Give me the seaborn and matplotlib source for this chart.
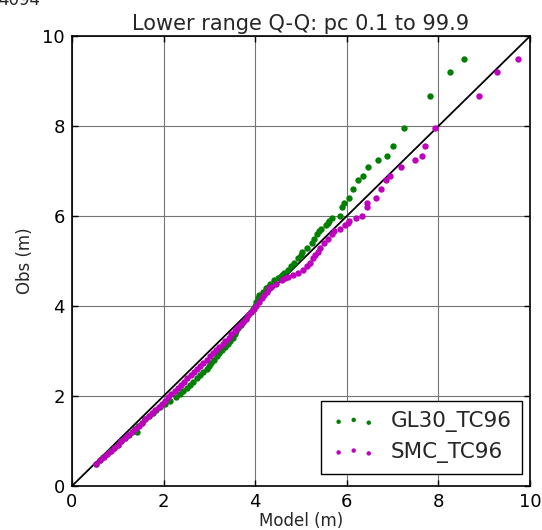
import matplotlib
matplotlib.use("Agg")
import matplotlib.pyplot as plt
import seaborn as sns
import pandas as pd

# Observed quantiles (m), shared by both models
obs_q = [0.50, 0.57, 0.64, 0.71, 0.78, 0.85, 0.92, 0.99, 1.06, 1.13,
         1.20, 1.27, 1.34, 1.41, 1.48, 1.55, 1.62, 1.69, 1.76, 1.83,
         1.90, 1.97, 2.04, 2.11, 2.18, 2.25, 2.32, 2.39, 2.46, 2.53,
         2.60, 2.67, 2.74, 2.81, 2.88, 2.95, 3.02, 3.09, 3.16, 3.23,
         3.30, 3.37, 3.44, 3.51, 3.58, 3.65, 3.72, 3.79, 3.86, 3.93,
         4.00, 4.08, 4.17, 4.25, 4.32, 4.39, 4.43, 4.50, 4.58, 4.62,
         4.65, 4.69, 4.73, 4.80, 4.88, 4.95, 5.06, 5.13, 5.21, 5.30,
         5.39, 5.48, 5.59, 5.66, 5.71, 5.80, 5.84, 5.90, 5.95, 6.01,
         6.20, 6.30, 6.41, 6.60, 6.80, 6.90, 7.10, 7.24, 7.34, 7.56,
         7.96, 8.67, 9.20, 9.49]

# Model quantiles (m)
gl30_q = [0.53, 0.61, 0.68, 0.76, 0.84, 0.92, 1.00, 1.08, 1.16, 1.24,
          1.41, 1.37, 1.45, 1.53, 1.60, 1.68, 1.76, 1.84, 1.92, 2.02,
          2.15, 2.26, 2.35, 2.43, 2.51, 2.58, 2.65, 2.72, 2.79, 2.87,
          2.94, 2.99, 3.04, 3.10, 3.16, 3.22, 3.28, 3.34, 3.40, 3.45,
          3.51, 3.55, 3.58, 3.63, 3.68, 3.74, 3.79, 3.85, 3.91, 3.96,
          3.99, 4.02, 4.05, 4.09, 4.16, 4.23, 4.28, 4.32, 4.40, 4.50,
          4.54, 4.58, 4.63, 4.72, 4.79, 4.85, 4.94, 4.99, 5.03, 5.12,
          5.23, 5.28, 5.34, 5.40, 5.43, 5.54, 5.58, 5.60, 5.68, 5.84,
          5.90, 5.93, 6.04, 6.14, 6.24, 6.35, 6.47, 6.67, 6.88, 7.00,
          7.25, 7.82, 8.25, 8.55]

smc_q = [0.53, 0.61, 0.69, 0.77, 0.85, 0.92, 1.00, 1.08, 1.15, 1.23,
         1.31, 1.38, 1.46, 1.53, 1.60, 1.68, 1.75, 1.82, 1.89, 1.96,
         2.03, 2.10, 2.17, 2.24, 2.31, 2.38, 2.45, 2.52, 2.59, 2.66,
         2.73, 2.80, 2.87, 2.94, 3.01, 3.08, 3.15, 3.22, 3.29, 3.35,
         3.42, 3.48, 3.55, 3.61, 3.67, 3.73, 3.79, 3.85, 3.91, 3.97,
         4.02, 4.08, 4.14, 4.20, 4.25, 4.31, 4.35, 4.46, 4.58, 4.64,
         4.72, 4.83, 4.94, 5.05, 5.12, 5.20, 5.26, 5.31, 5.36, 5.41,
         5.50, 5.58, 5.68, 5.73, 5.85, 5.95, 6.03, 6.04, 6.19, 6.33,
         6.44, 6.44, 6.63, 6.75, 6.86, 6.95, 7.18, 7.49, 7.65, 7.71,
         7.92, 8.89, 9.27, 9.74]

series_names = ["GL30_TC96", "SMC_TC96"]
series_colors = ["g", "m"]
ticks = [0, 2, 4, 6, 8, 10]

sns.set_style("white")
plt.rcParams['font.family'] = ['DejaVu Sans']

fig = plt.figure(figsize=(5.42, 5.30), dpi=100)
ax = fig.add_axes([0.1328, 0.083, 0.8452, 0.849])

ax.grid(True, color="0.45", linewidth=0.8, linestyle="-")
ax.set_axisbelow(True)

ax.plot([0, 10], [0, 10], color="k", linewidth=1.3, zorder=3)

for name, col, mq in zip(series_names, series_colors, [gl30_q, smc_q]):
    df = pd.DataFrame({"Model": mq, "Obs": obs_q})
    sns.scatterplot(data=df, x="Model", y="Obs", color=col, s=21,
                    linewidth=0, label=name, ax=ax, zorder=4, legend=False)

ax.set_xlim(0, 10)
ax.set_ylim(0, 10)
ax.set_xticks(ticks)
ax.set_yticks(ticks)
ax.tick_params(direction="in", length=4, width=1, colors="k",
               labelsize=13, top=True, right=True, bottom=True, left=True,
               pad=5)
for sp in ax.spines.values():
    sp.set_color("k")
    sp.set_linewidth(1.2)

ax.set_xlabel("Model (m)", fontsize=12, labelpad=1)
ax.set_ylabel("Obs (m)", fontsize=12, labelpad=6)
ax.set_title("Lower range Q-Q: pc 0.1 to 99.9", fontsize=15, pad=4)

handles = ax.collections[:2]
leg = ax.legend(handles, series_names, loc="lower right",
                bbox_to_anchor=(0.9825, 0.027), borderaxespad=0,
                scatterpoints=3, scatteryoffsets=[0.375, 0.5, 0.3125],
                fontsize=15.5, frameon=True, fancybox=False, framealpha=1,
                edgecolor="k", borderpad=0.5, handletextpad=0.7,
                handlelength=2.0, labelspacing=0.45, markerscale=0.7)
leg.get_frame().set_linewidth(1.0)

fig.text(-0.004, 0.991, "4094", fontsize=12, va="baseline", ha="left")

fig.savefig("out.png", dpi=100)
